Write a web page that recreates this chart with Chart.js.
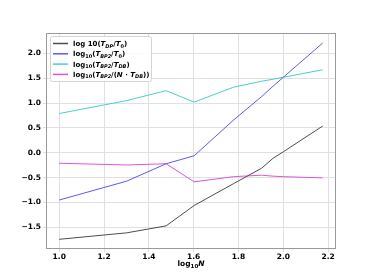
<!DOCTYPE html>
<html>
<head>
<meta charset="utf-8">
<script src="https://cdn.jsdelivr.net/npm/chart.js@4.4.0/dist/chart.umd.min.js"></script>
<style>
  body { margin: 0; background: #fff; }
</style>
</head>
<body>
<canvas id="chart" width="374" height="280"></canvas>
<script>
// log10 N
const logN = [1.0, 1.301, 1.477, 1.602, 1.778, 1.903, 1.954, 2.0, 2.176];

const dpRatio = [-1.74, -1.61, -1.47, -1.06, -0.62, -0.31, -0.11, 0.02, 0.54];
const bp2Ratio = [-0.95, -0.57, -0.22, -0.06, 0.66, 1.13, 1.34, 1.52, 2.21];
const bp2DbRatio = [0.79, 1.05, 1.25, 1.02, 1.32, 1.44, 1.48, 1.52, 1.67];
const bp2NDbRatio = [-0.21, -0.245, -0.22, -0.585, -0.48, -0.45, -0.47, -0.48, -0.505];

const xTicks = [1.0, 1.2, 1.4, 1.6, 1.8, 2.0, 2.2];
const yTicks = [-1.5, -1.0, -0.5, 0.0, 0.5, 1.0, 1.5, 2.0];

// legend labels as [text, style]: n normal, i italic, s subscript
const names = [
  [['log 10(', 'n'], ['T', 'i'], ['DP', 'si'], ['/', 'n'], ['T', 'i'], ['0', 's'], [')', 'n']],
  [['log', 'n'], ['10', 's'], ['(', 'n'], ['T', 'i'], ['BP2', 'si'], ['/', 'n'], ['T', 'i'], ['0', 's'], [')', 'n']],
  [['log', 'n'], ['10', 's'], ['(', 'n'], ['T', 'i'], ['BP2', 'si'], ['/', 'n'], ['T', 'i'], ['DB', 'si'], [')', 'n']],
  [['log', 'n'], ['10', 's'], ['(', 'n'], ['T', 'i'], ['BP2', 'si'], ['/(', 'n'], ['N', 'i'], [' \u00b7 ', 'n'], ['T', 'i'], ['DB', 'si'], ['))', 'n']]
];
const colors = ['#4d4d4d', '#5a5aff', '#45d0d0', '#dd55dd'];
const series = [dpRatio, bp2Ratio, bp2DbRatio, bp2NDbRatio];

const toPts = arr => arr.map((v, i) => ({ x: logN[i], y: v }));

function fontFor(st) {
  const it = st.indexOf('i') >= 0 ? 'italic ' : '';
  const sz = st[0] === 's' ? 5 : 7;
  return it + 'bold ' + sz + 'px "DejaVu Sans"';
}

function richText(ctx, segs, x, y) {
  segs.forEach(([t, st]) => {
    ctx.font = fontFor(st);
    ctx.fillText(t, x, st[0] === 's' ? y + 1.5 : y);
    x += ctx.measureText(t).width;
  });
}

const frame = {
  id: 'frame',
  afterDraw(chart) {
    const { ctx, chartArea: a } = chart;
    ctx.save();
    ctx.strokeStyle = '#9a9a9a';
    ctx.lineWidth = 1;
    ctx.strokeRect(a.left + 0.5, a.top + 0.5, a.right - a.left - 1, a.bottom - a.top - 1);

    // legend box
    ctx.fillStyle = 'rgba(255,255,255,0.85)';
    ctx.strokeStyle = '#d4d4d4';
    ctx.beginPath();
    ctx.roundRect(50.5, 36.5, 101, 45, 2);
    ctx.fill();
    ctx.stroke();
    ctx.textBaseline = 'alphabetic';
    names.forEach((segs, i) => {
      const yy = 43.5 + i * 10.3;
      ctx.strokeStyle = colors[i];
      ctx.lineWidth = 1.5;
      ctx.beginPath();
      ctx.moveTo(53, yy);
      ctx.lineTo(68, yy);
      ctx.stroke();
      ctx.fillStyle = '#000';
      richText(ctx, segs, 73, yy + 2.5);
    });

    // x axis title: log10 N
    ctx.fillStyle = '#000';
    ctx.font = 'bold 7.5px "DejaVu Sans"';
    const w1 = ctx.measureText('log').width;
    ctx.font = 'bold 5.5px "DejaVu Sans"';
    const w2 = ctx.measureText('10').width;
    ctx.font = 'italic bold 7.5px "DejaVu Sans"';
    const w3 = ctx.measureText('N').width;
    let x = (a.left + a.right) / 2 - (w1 + w2 + w3) / 2;
    const y = 266;
    ctx.font = 'bold 7.5px "DejaVu Sans"';
    ctx.fillText('log', x, y); x += w1;
    ctx.font = 'bold 5.5px "DejaVu Sans"';
    ctx.fillText('10', x, y + 1.5); x += w2;
    ctx.font = 'italic bold 7.5px "DejaVu Sans"';
    ctx.fillText('N', x, y);
    ctx.restore();
  }
};

new Chart(document.getElementById('chart').getContext('2d'), {
  type: 'line',
  data: {
    datasets: series.map((s, i) => ({
      data: toPts(s),
      borderColor: colors[i],
      borderWidth: 1,
      pointRadius: 0,
      tension: 0,
      fill: false
    }))
  },
  options: {
    responsive: false,
    animation: false,
    layout: { padding: { left: 0, top: 33, right: 38, bottom: 0 } },
    plugins: { legend: { display: false }, tooltip: { enabled: false } },
    scales: {
      x: {
        type: 'linear',
        min: 0.941,
        max: 2.235,
        afterBuildTicks: s => { s.ticks = xTicks.map(v => ({ value: v })); },
        afterFit: s => { s.height = 31; },
        grid: { color: '#e0e0e0', lineWidth: 1, tickLength: 3 },
        border: { display: false },
        ticks: {
          color: '#000',
          padding: 1,
          maxRotation: 0,
          font: { family: 'DejaVu Sans', size: 7.5, weight: 'bold' },
          callback: v => v.toFixed(1)
        }
      },
      y: {
        min: -1.935,
        max: 2.41,
        afterBuildTicks: s => { s.ticks = yTicks.map(v => ({ value: v })); },
        afterFit: s => { s.width = 46; },
        grid: { color: '#e0e0e0', lineWidth: 1, tickLength: 3 },
        border: { display: false },
        ticks: {
          color: '#000',
          padding: 2,
          font: { family: 'DejaVu Sans', size: 7.5, weight: 'bold' },
          callback: v => (v < 0 ? '\u2212' + Math.abs(v).toFixed(1) : v.toFixed(1))
        }
      }
    }
  },
  plugins: [frame]
});
</script>
</body>
</html>
